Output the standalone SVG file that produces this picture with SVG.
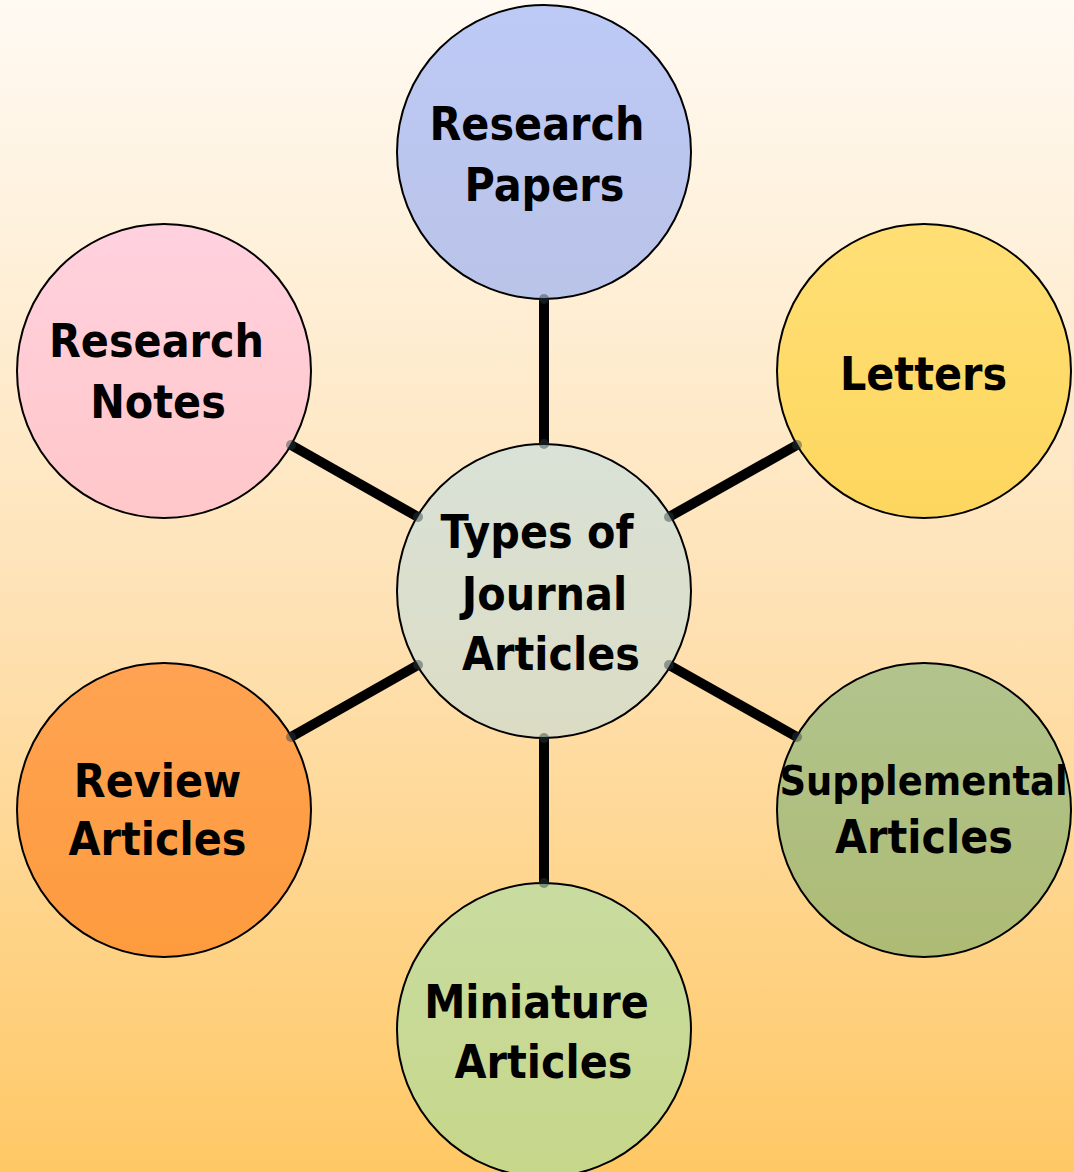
<svg xmlns="http://www.w3.org/2000/svg" width="1074" height="1172" viewBox="0 0 1074 1172">
  <defs>
    <linearGradient id="bg" x1="0" y1="0" x2="0" y2="1">
      <stop offset="0" stop-color="#fffaf3"/>
      <stop offset="0.5" stop-color="#fee3b8"/>
      <stop offset="1" stop-color="#ffc865"/>
    </linearGradient>
    <linearGradient id="g-rp" x1="0" y1="0" x2="0" y2="1">
      <stop offset="0" stop-color="#bdcaf6"/><stop offset="1" stop-color="#bac3e8"/>
    </linearGradient>
    <linearGradient id="g-let" x1="0" y1="0" x2="0" y2="1">
      <stop offset="0" stop-color="#ffdf75"/><stop offset="1" stop-color="#fdd65e"/>
    </linearGradient>
    <linearGradient id="g-rn" x1="0" y1="0" x2="0" y2="1">
      <stop offset="0" stop-color="#ffd1df"/><stop offset="1" stop-color="#ffc7c8"/>
    </linearGradient>
    <linearGradient id="g-ctr" x1="0" y1="0" x2="0" y2="1">
      <stop offset="0" stop-color="#d9e2d7"/><stop offset="1" stop-color="#dcdcc4"/>
    </linearGradient>
    <linearGradient id="g-rev" x1="0" y1="0" x2="0" y2="1">
      <stop offset="0" stop-color="#ffa352"/><stop offset="1" stop-color="#fd9b3e"/>
    </linearGradient>
    <linearGradient id="g-sup" x1="0" y1="0" x2="0" y2="1">
      <stop offset="0" stop-color="#b2c48d"/><stop offset="1" stop-color="#adbb74"/>
    </linearGradient>
    <linearGradient id="g-min" x1="0" y1="0" x2="0" y2="1">
      <stop offset="0" stop-color="#c9dca0"/><stop offset="1" stop-color="#c6d78a"/>
    </linearGradient>
  </defs>
  <style>
    .node circle { stroke: #000; stroke-width: 2; }
    .node text { font-family: "DejaVu Sans Condensed", "DejaVu Sans", sans-serif; font-stretch: condensed; font-weight: 700; font-size: 46px; fill: #000; text-anchor: middle; font-variant-ligatures: none; }
    .node text.small { font-size: 41px; }
    .conn line { stroke: #000; stroke-width: 10; }
    .end circle { fill: #2a3c44; fill-opacity: 0.45; }
  </style>
  <rect x="0" y="0" width="1074" height="1172" fill="url(#bg)"/>

  <g id="connectors" class="conn">
    <line x1="544" y1="299" x2="544" y2="444"/>
    <line x1="669" y1="517" x2="797" y2="445"/>
    <line x1="669" y1="665" x2="797" y2="737"/>
    <line x1="544" y1="738" x2="544" y2="883"/>
    <line x1="418" y1="665" x2="291" y2="737"/>
    <line x1="418" y1="517" x2="291" y2="445"/>
  </g>

  <g id="node-research-papers" class="node">
    <circle cx="544" cy="152" r="147" fill="url(#g-rp)"/>
    <text x="537" y="140">Research</text>
    <text x="544.5" y="201">Papers</text>
  </g>
  <g id="node-letters" class="node">
    <circle cx="924" cy="371" r="147" fill="url(#g-let)"/>
    <text x="923.5" y="390">Letters</text>
  </g>
  <g id="node-research-notes" class="node">
    <circle cx="164" cy="371" r="147" fill="url(#g-rn)"/>
    <text x="156.5" y="357">Research</text>
    <text x="158" y="418">Notes</text>
  </g>
  <g id="node-center" class="node">
    <circle cx="544" cy="591" r="147" fill="url(#g-ctr)"/>
    <text x="537" y="548">Types of</text>
    <text x="544.5" y="610">Journal</text>
    <text x="551" y="670">Articles</text>
  </g>
  <g id="node-review" class="node">
    <circle cx="164" cy="810" r="147" fill="url(#g-rev)"/>
    <text x="157.5" y="797">Review</text>
    <text x="157.5" y="855">Articles</text>
  </g>
  <g id="node-supplemental" class="node">
    <circle cx="924" cy="810" r="147" fill="url(#g-sup)"/>
    <text class="small" x="923.5" y="795">Supplemental</text>
    <text x="924" y="853">Articles</text>
  </g>
  <g id="node-miniature" class="node">
    <circle cx="544" cy="1030" r="147" fill="url(#g-min)"/>
    <text x="536.5" y="1018">Miniature</text>
    <text x="543.5" y="1078">Articles</text>
  </g>

  <g id="connector-ends" class="end">
    <circle cx="544" cy="299" r="5"/>
    <circle cx="544" cy="444" r="5"/>
    <circle cx="669" cy="517" r="5"/>
    <circle cx="797" cy="445" r="5"/>
    <circle cx="669" cy="665" r="5"/>
    <circle cx="797" cy="737" r="5"/>
    <circle cx="544" cy="738" r="5"/>
    <circle cx="544" cy="883" r="5"/>
    <circle cx="418" cy="665" r="5"/>
    <circle cx="291" cy="737" r="5"/>
    <circle cx="418" cy="517" r="5"/>
    <circle cx="291" cy="445" r="5"/>
  </g>
</svg>
